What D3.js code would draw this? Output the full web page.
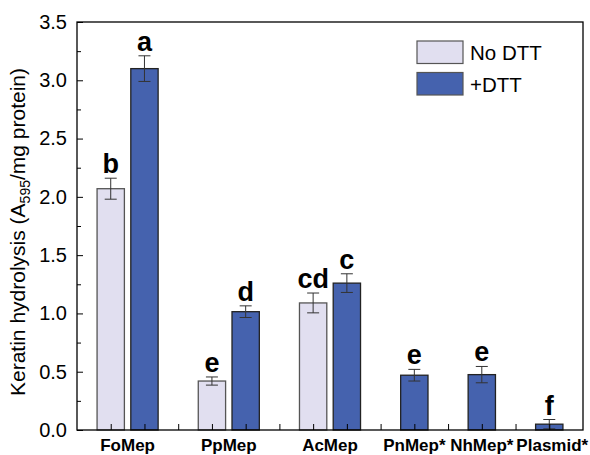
<!DOCTYPE html>
<html>
<head>
<meta charset="utf-8">
<script src="https://cdn.jsdelivr.net/npm/d3@7"></script>
<style>
  body { margin: 0; background: #fff; }
  text { font-family: "Liberation Sans", Arial, sans-serif; }
</style>
</head>
<body>
<div id="chart"></div>
<script>
// Keratin hydrolysis bar chart

var categories = ["FoMep", "PpMep", "AcMep", "PnMep*", "NhMep*", "Plasmid*"];
var groupX     = [1.5, 4.5, 7.5, 10, 12, 14];
var noDTT      = [2.07, 0.42, 1.09, null, null, null];
var noDTTErr   = [0.09, 0.035, 0.085, null, null, null];
var noDTTSig   = ["b", "e", "cd", null, null, null];
var plusDTT    = [3.10, 1.015, 1.26, 0.47, 0.475, 0.05];
var plusDTTErr = [0.11, 0.05, 0.08, 0.05, 0.07, 0.04];
var plusDTTSig = ["a", "d", "c", "e", "e", "f"];
var yTicks     = [0, 0.5, 1.0, 1.5, 2.0, 2.5, 3.0, 3.5];
var seriesNames = ["No DTT", "+DTT"];

var colLight = "#e1dff0", colBlue = "#4562ae";

var width = 590, height = 455;
var margin = {top: 22, right: 7, bottom: 25, left: 77};
var w = width - margin.left - margin.right,
    h = height - margin.top - margin.bottom;

var svg = d3.select("#chart").append("svg")
    .attr("width", width)
    .attr("height", height)
    .append("g")
    .attr("transform", "translate(" + margin.left + "," + margin.top + ")");

var x = d3.scaleLinear().domain([0, 15]).range([0, w]);
var y = d3.scaleLinear().domain([0, 3.5]).range([h, 0]);
var barW = x(0.81) - x(0);

// build bar records
var bars = [];
categories.forEach(function(c, i) {
    if (noDTT[i] != null) {
        bars.push({x: groupX[i] - 0.5, v: noDTT[i], e: noDTTErr[i], s: noDTTSig[i], fill: colLight, stroke: "#555"});
        bars.push({x: groupX[i] + 0.5, v: plusDTT[i], e: plusDTTErr[i], s: plusDTTSig[i], fill: colBlue, stroke: "#222"});
    } else {
        bars.push({x: groupX[i], v: plusDTT[i], e: plusDTTErr[i], s: plusDTTSig[i], fill: colBlue, stroke: "#222"});
    }
});

svg.selectAll(".bar")
    .data(bars)
    .enter().append("rect")
    .attr("class", "bar")
    .attr("x", function(d) { return x(d.x) - barW / 2; })
    .attr("y", function(d) { return y(d.v); })
    .attr("width", barW)
    .attr("height", function(d) { return h - y(d.v); })
    .style("fill", function(d) { return d.fill; })
    .style("stroke", function(d) { return d.stroke; })
    .style("stroke-width", 1.3);

// error bars
var eb = svg.selectAll(".err").data(bars).enter().append("g")
    .attr("class", "err")
    .style("stroke", "#333")
    .style("stroke-width", 1);
eb.append("line")
    .attr("x1", function(d) { return x(d.x); })
    .attr("x2", function(d) { return x(d.x); })
    .attr("y1", function(d) { return y(d.v + d.e); })
    .attr("y2", function(d) { return y(Math.max(0, d.v - d.e)); });
eb.append("line")
    .attr("x1", function(d) { return x(d.x) - 6; })
    .attr("x2", function(d) { return x(d.x) + 6; })
    .attr("y1", function(d) { return y(d.v + d.e); })
    .attr("y2", function(d) { return y(d.v + d.e); });
eb.append("line")
    .attr("x1", function(d) { return x(d.x) - 6; })
    .attr("x2", function(d) { return x(d.x) + 6; })
    .attr("y1", function(d) { return y(Math.max(0, d.v - d.e)); })
    .attr("y2", function(d) { return y(Math.max(0, d.v - d.e)); });

// significance letters
svg.selectAll(".sig").data(bars).enter().append("text")
    .attr("class", "sig")
    .attr("x", function(d) { return x(d.x); })
    .attr("y", function(d) { return y(d.v + d.e) - 5; })
    .attr("text-anchor", "middle")
    .style("font-size", "27px")
    .style("font-weight", "bold")
    .text(function(d) { return d.s; });

// y axis
var yAxis = svg.append("g")
    .call(d3.axisLeft(y).tickValues(yTicks).tickSize(-6).tickPadding(10).tickFormat(d3.format(".1f")));
yAxis.selectAll("text").style("font-size", "20px").style("fill", "#000");
yAxis.select(".domain").remove();
svg.append("g")
    .call(d3.axisLeft(y).tickValues(d3.range(0.25, 3.5, 0.5)).tickSize(-4).tickFormat(""))
    .select(".domain").remove();

// x axis ticks
var xAxis = svg.append("g")
    .attr("transform", "translate(0," + h + ")")
    .call(d3.axisBottom(x).tickValues(d3.range(1, 15)).tickSize(-6).tickFormat(""));
xAxis.select(".domain").remove();

// frame
svg.append("rect")
    .attr("width", w).attr("height", h)
    .style("fill", "none").style("stroke", "#000").style("stroke-width", 1.3);

// category labels
svg.selectAll(".cat").data(categories).enter().append("text")
    .attr("class", "cat")
    .attr("x", function(d, i) { return x(groupX[i]) + (i == 5 ? 3 : 0); })
    .attr("y", h + 21)
    .attr("text-anchor", "middle")
    .style("font-size", "17px")
    .style("font-weight", "bold")
    .text(function(d) { return d; });

// y label
var yl = svg.append("text")
    .attr("transform", "rotate(-90)")
    .attr("x", -h / 2 - 6)
    .attr("y", -margin.left + 25)
    .attr("text-anchor", "middle")
    .style("font-size", "21px");
yl.append("tspan").text("Keratin hydrolysis (A");
yl.append("tspan").attr("dy", 5).style("font-size", "14px").text("595");
yl.append("tspan").attr("dy", -5).text("/mg protein)");

// legend
var leg = svg.selectAll(".leg").data(seriesNames).enter().append("g")
    .attr("class", "leg")
    .attr("transform", function(d, i) { return "translate(" + (417 - margin.left) + "," + (41 - margin.top + i * 31.5) + ")"; });
leg.append("rect")
    .attr("width", 46).attr("height", 22.5)
    .style("fill", function(d, i) { return i == 0 ? colLight : colBlue; })
    .style("stroke", "#555").style("stroke-width", 1.2);
leg.append("text")
    .attr("x", 53).attr("y", 19)
    .style("font-size", "20.5px")
    .text(function(d) { return d; });
</script>
</body>
</html>
